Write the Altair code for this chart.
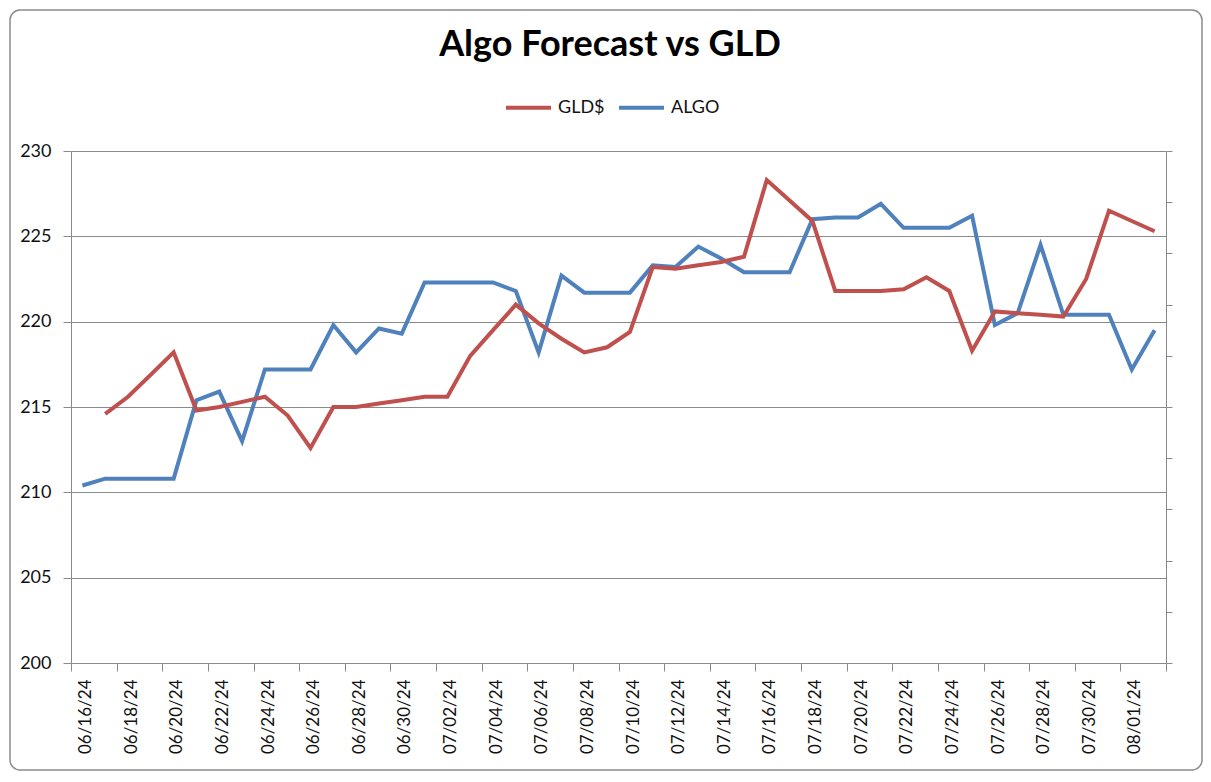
import json
import altair as alt
import pandas as pd

dates = [
    "06/16/24", "06/17/24", "06/18/24", "06/19/24", "06/20/24", "06/21/24", "06/22/24", "06/23/24",
    "06/24/24", "06/25/24", "06/26/24", "06/27/24", "06/28/24", "06/29/24", "06/30/24", "07/01/24",
    "07/02/24", "07/03/24", "07/04/24", "07/05/24", "07/06/24", "07/07/24", "07/08/24", "07/09/24",
    "07/10/24", "07/11/24", "07/12/24", "07/13/24", "07/14/24", "07/15/24", "07/16/24", "07/17/24",
    "07/18/24", "07/19/24", "07/20/24", "07/21/24", "07/22/24", "07/23/24", "07/24/24", "07/25/24",
    "07/26/24", "07/27/24", "07/28/24", "07/29/24", "07/30/24", "07/31/24", "08/01/24", "08/02/24",
]

gld = [
    None, 214.6, 215.6, 216.9, 218.2, 214.8, 215.0, 215.3,
    215.6, 214.5, 212.6, 215.0, 215.0, 215.2, 215.4, 215.6,
    215.6, 218.0, 219.5, 221.0, 219.9, 219.0, 218.2, 218.5,
    219.4, 223.2, 223.1, 223.3, 223.5, 223.8, 228.3, 227.1,
    225.9, 221.8, 221.8, 221.8, 221.9, 222.6, 221.8, 218.3,
    220.6, 220.5, 220.4, 220.3, 222.5, 226.5, 225.9, 225.3,
]

algo = [
    210.4, 210.8, 210.8, 210.8, 210.8, 215.4, 215.9, 213.0,
    217.2, 217.2, 217.2, 219.8, 218.2, 219.6, 219.3, 222.3,
    222.3, 222.3, 222.3, 221.8, 218.2, 222.7, 221.7, 221.7,
    221.7, 223.3, 223.2, 224.4, 223.7, 222.9, 222.9, 222.9,
    226.0, 226.1, 226.1, 226.9, 225.5, 225.5, 225.5, 226.2,
    219.8, 220.5, 224.5, 220.4, 220.4, 220.4, 217.2, 219.5,
]

series_names = ["GLD$", "ALGO"]
series_colors = ["#C0504D", "#4F81BD"]
title_text = "Algo Forecast vs GLD"
y_ticks = [200, 205, 210, 215, 220, 225, 230]
tick_labels = dates[::2]

rows = []
for i, d in enumerate(dates):
    for name, vals in zip(series_names, [gld, algo]):
        v = vals[i]
        if v is not None:
            rows.append({"idx": i + 0.5, "date": d, "series": name, "value": v})
df = pd.DataFrame(rows)

n = len(dates)
FONT = "Lato"
GRID = "#8a8a8a"
TXT = "#111111"

label_expr = "datum.value < %d ? %s[round(datum.value/2)] : ''" % (n, json.dumps(tick_labels))

x_axis = alt.Axis(
    values=list(range(0, n + 1, 2)),
    labelExpr=label_expr,
    labelAngle=-90,
    labelOffset=14.5,
    labelOverlap=False,
    labelFont=FONT,
    labelFontSize=17,
    labelColor=TXT,
    labelPadding=8,
    tickSize=8,
    tickColor=GRID,
    domainColor=GRID,
    grid=False,
    title=None,
)
x_scale = alt.Scale(domain=[0, n], nice=False, zero=False)

lines = alt.Chart(df).mark_line(strokeWidth=4, strokeJoin="miter").encode(
    x=alt.X("idx:Q", scale=x_scale, axis=x_axis),
    y=alt.Y(
        "value:Q",
        scale=alt.Scale(domain=[200, 230], nice=False, zero=False),
        axis=alt.Axis(
            values=y_ticks,
            labelFont=FONT,
            labelFontSize=18,
            labelColor=TXT,
            labelPadding=12,
            tickSize=8,
            tickColor=GRID,
            domainColor=GRID,
            gridColor=GRID,
            gridWidth=1.2,
            title=None,
        ),
    ),
    color=alt.Color(
        "series:N",
        scale=alt.Scale(domain=series_names, range=series_colors),
        sort=series_names,
        legend=alt.Legend(
            orient="none",
            legendX=433,
            legendY=-68,
            direction="horizontal",
            title=None,
            symbolType="stroke",
            symbolStrokeWidth=4,
            symbolSize=2025,
            labelFont=FONT,
            labelFontSize=18,
            labelColor=TXT,
            labelOffset=5,
            columnPadding=6,
            padding=0,
        ),
    ),
    detail="series:N",
)

secondary = alt.Chart(df).mark_point(opacity=0, clip=True).encode(
    x=alt.X("idx:Q", scale=x_scale, axis=x_axis),
    y=alt.Y(
        "value:Q",
        scale=alt.Scale(domain=[0, 10], nice=False, zero=False),
        axis=alt.Axis(
            orient="right",
            values=list(range(0, 11)),
            labels=False,
            tickSize=6,
            tickColor=GRID,
            domainColor=GRID,
            grid=False,
            title=None,
        ),
    ),
)

title_df = pd.DataFrame({"t": [title_text]})
title = alt.Chart(title_df).mark_text(
    font=FONT, fontSize=36, fontWeight="bold", color="#000000", align="center", baseline="alphabetic"
).encode(x=alt.value(539), y=alt.value(-95), text="t:N")

frame = alt.Chart(title_df).mark_rect(
    filled=False, stroke="#8c8c8c", strokeWidth=1.5, cornerRadius=10
).encode(x=alt.value(-61), x2=alt.value(1131), y=alt.value(-141), y2=alt.value(619))

chart = (
    alt.layer(frame, title, lines, secondary)
    .resolve_scale(y="independent")
    .properties(
        width=1095,
        height=512,
        autosize="none",
        padding={"left": 63, "top": 143, "right": 37, "bottom": 111},
        background="white",
    )
    .configure_view(strokeWidth=0)
)

chart.save("out.html", embed_options={"renderer": "svg", "actions": False})
